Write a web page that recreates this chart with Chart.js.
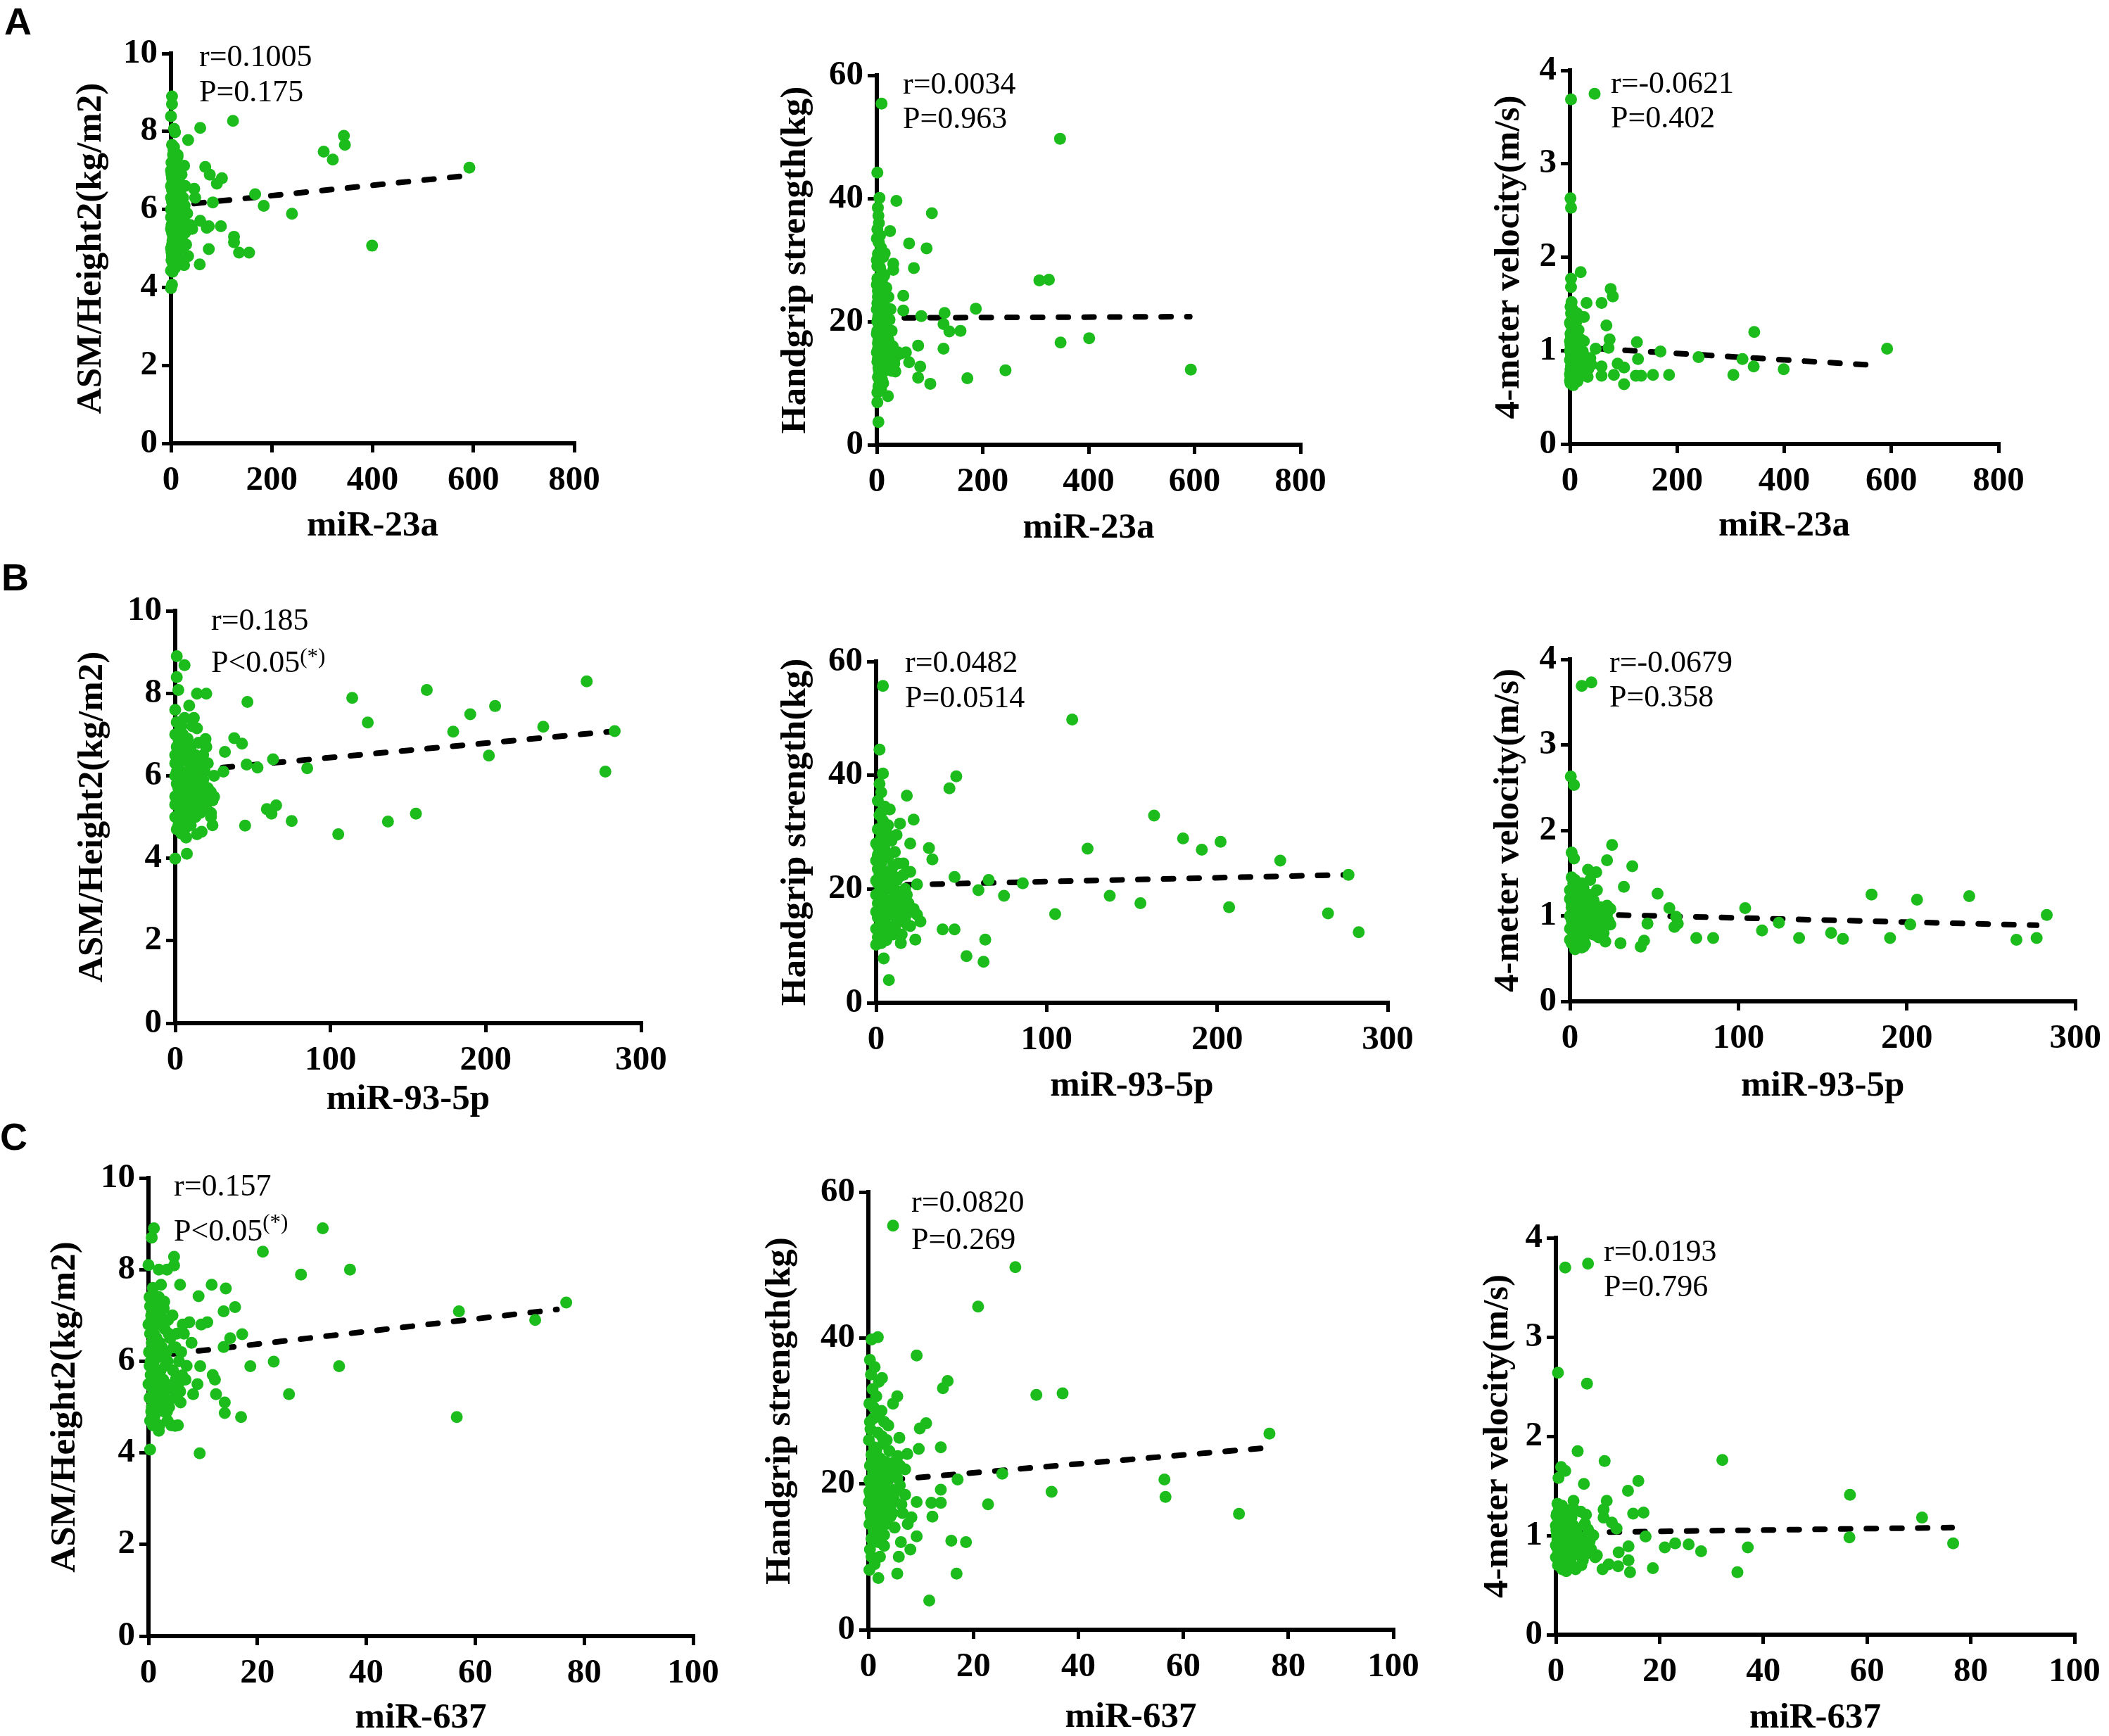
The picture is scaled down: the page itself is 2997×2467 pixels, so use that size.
<!DOCTYPE html>
<html lang="en">
<head>
<meta charset="UTF-8">
<title>miRNA correlations</title>
<script src="https://cdn.jsdelivr.net/npm/chart.js"></script>
<style>
    html, body {
        margin: 0;
        padding: 0;
        background: #fff;
        overflow: hidden;
    }
    #page {
        position: relative;
        width: 2997px;
        height: 2467px;
        background: #fff;
    }
    .box {
        position: absolute;
    }
    .letter {
        position: absolute;
        font-family: "Liberation Sans", Arial, sans-serif;
        font-weight: bold;
        font-size: 54px;
        line-height: 54px;
        color: #000;
    }
    .note {
        position: absolute;
        font-family: "Liberation Serif", "Times New Roman", serif;
        font-size: 44px;
        line-height: 44px;
        white-space: nowrap;
        color: #000;
    }
    .note span {
        font-size: 31px;
        position: relative;
    }
</style>
</head>
<body>
<div id="page"></div>

<script>
    // axis labels
    const xTitles = ["miR-23a", "miR-93-5p", "miR-637"];
    const yTitles = ["ASM/Height2(kg/m2)", "Handgrip strength(kg)", "4-meter velocity(m/s)"];
    const xMax = [800, 300, 100];
    const xStep = [200, 100, 20];
    const yMax = [10, 60, 4];
    const yStep = [2, 20, 1];
    const panelLetters = ["A", "B", "C"];

    // correlation notes (A1..C3)
    const rTexts = ["r=0.1005", "r=0.0034", "r=-0.0621",
                    "r=0.185", "r=0.0482", "r=-0.0679",
                    "r=0.157", "r=0.0820", "r=0.0193"];
    const pTexts = ["P=0.175", "P=0.963", "P=0.402",
                    "P<0.05", "P=0.0514", "P=0.358",
                    "P<0.05", "P=0.269", "P=0.796"];
    const pMarks = ["", "", "", "(*)", "", "", "(*)", "", ""];

    // points [x, y]
    const a1Points = [
        [592,7.07],[399,5.07],[343,7.89],[345,7.66],[303,7.48],[321,7.28],[240,5.89],[184,6.09],[167,6.39],[123,8.27],
        [155,4.89],[135,4.89],[125,5.30],[125,5.16],[99,5.57],[101,6.80],[91,6.66],[77,6.89],[68,7.09],[83,6.18],
        [75,5.57],[75,4.98],[58,8.09],[34,7.78],[57,4.59],[34,4.80],[26,4.57],[46,6.53],[48,6.30],[58,5.71],
        [71,5.53],[26,7.12],[13,7.35],[14,5.07],[2,8.90],[2,8.70],[0,8.39],[6,8.07],[8,7.98],[2,7.66],
        [5,7.52],[2,4.07],[0,3.98],[0,4.43],
        [1,7.2],[3,7.0],[5,6.9],[2,6.8],[8,6.7],[12,6.6],[4,6.5],[15,6.5],[6,6.4],[10,6.3],
        [2,6.2],[18,6.2],[7,6.1],[3,6.0],[12,6.0],[20,5.9],[1,5.8],[9,5.8],[25,5.7],[4,5.6],
        [14,5.6],[30,5.6],[6,5.5],[2,5.4],[18,5.4],[10,5.3],[3,5.2],[22,5.2],[7,5.1],[1,5.0],
        [15,5.0],[5,4.9],[2,4.8],[11,4.8],[1,4.7],[4,4.6],[8,4.5],[20,5.5],[35,5.5],[28,5.4],
        [16,6.8],[20,6.6],[9,7.1],[13,7.4],[24,6.3],[26,5.8],[0,6.6],[0,6.0],[0,5.5],[0,5.0],
        [0,7.0],[1,6.3],[3,6.7],[5,6.2],[6,5.8],[8,5.2],[11,5.6],[13,6.2],[16,5.9],[19,5.1],
        [23,6.0],[30,5.1],[38,5.6],[42,5.5],[17,4.7],[9,4.6],[4,7.4],[6,7.6],[10,7.0],[3,4.4],
        [12,6.9],[21,6.9],[14,7.1],[28,6.6],[32,5.9],
        [1,6.9],[2,6.5],[4,6.1],[5,5.7],[7,5.4],[3,5.8],[6,6.6],[9,6.0],[11,5.2],[8,6.9],
        [2,5.1],[4,5.3],[1,5.6],[5,6.3],[14,6.3],[17,5.7],[10,5.9],[7,6.5],[3,7.2],[12,5.0],
        [1,4.9],[6,4.8],[0,5.8],[0,6.3],[19,6.4],[22,5.8],[15,5.3],[24,5.0],[27,6.1],[9,5.5]
    ];
    const a2Points = [
        [9,55.4],[346,49.7],[1,44.2],[5,40.1],[37,39.6],[104,37.6],[25,34.7],[61,32.7],[94,31.9],[15,31.1],
        [31,29.4],[70,28.7],[307,26.7],[325,26.8],[50,24.2],[50,21.8],[187,22.1],[128,21.4],[84,20.9],[126,19.6],
        [137,18.4],[158,18.5],[347,16.6],[401,17.3],[78,16.1],[126,15.6],[61,13.4],[82,12.7],[243,12.1],[593,12.2],
        [171,10.8],[78,10.9],[101,9.9],[21,7.9],[3,3.7],[1,6.9],[35,11.9],[31,28.4],
        [2,38.5],[3,37.2],[4,36.0],[1,35.0],[6,34.0],[3,33.0],[8,32.0],[2,31.0],[12,30.5],[5,30.0],
        [1,29.0],[9,28.0],[14,27.5],[3,27.0],[7,26.0],[18,25.5],[2,25.0],[11,24.5],[5,24.0],[22,24.0],
        [1,23.0],[8,23.0],[15,22.5],[3,22.0],[26,22.0],[6,21.5],[12,21.0],[2,20.5],[20,20.5],[9,20.0],
        [4,19.5],[16,19.0],[1,18.5],[28,18.5],[7,18.0],[13,17.5],[3,17.0],[22,17.0],[10,16.5],[5,16.0],
        [30,16.0],[2,15.5],[18,15.5],[8,15.0],[40,15.0],[4,14.5],[25,14.5],[12,14.0],[1,13.5],[35,14.2],
        [6,13.0],[20,13.0],[3,12.5],[15,12.0],[9,11.5],[2,11.0],[28,12.0],[5,10.5],[12,10.0],[3,9.5],
        [8,9.0],[1,8.5],[45,14.8],[55,15.0],[17,21.8],[24,20.3],[0,22.0],[0,18.0],[0,15.0],[0,26.0],
        [0,30.0],[10,26.8],[6,28.8],[4,32.8],[14,18.0],[19,16.3],[33,13.2],
        [1,27.0],[2,24.0],[4,22.5],[6,19.5],[3,18.0],[5,16.5],[7,14.5],[2,14.0],[10,13.5],[4,12.0],
        [8,17.0],[11,19.5],[13,21.5],[6,23.5],[3,21.0],[1,20.0],[9,22.5],[14,15.0],[16,13.0],[2,16.5],
        [7,20.5],[5,25.5],[12,24.0],[20,18.2],[23,15.8],[10,10.5],[3,29.5],[0,33.5],[6,17.5],[18,20.8]
    ];
    const a3Points = [
        [2,3.69],[46,3.75],[1,2.63],[2,2.53],[20,1.84],[2,1.77],[2,1.68],[76,1.66],[80,1.58],[31,1.51],
        [59,1.51],[68,1.27],[26,1.36],[344,1.20],[125,1.09],[74,1.12],[72,1.03],[48,1.02],[169,0.99],[592,1.02],
        [240,0.93],[322,0.91],[127,0.91],[89,0.86],[101,0.82],[343,0.83],[399,0.80],[305,0.74],[185,0.74],[155,0.74],
        [133,0.73],[123,0.73],[82,0.74],[59,0.73],[59,0.83],[101,0.64],[33,0.72],
        [3,1.52],[1,1.47],[5,1.44],[2,1.40],[8,1.38],[4,1.34],[12,1.31],[1,1.28],[6,1.25],[16,1.22],
        [3,1.20],[9,1.17],[2,1.14],[20,1.12],[5,1.10],[11,1.08],[1,1.06],[7,1.04],[14,1.02],[3,1.00],
        [24,0.99],[9,0.97],[2,0.95],[17,0.94],[5,0.92],[12,0.91],[1,0.90],[28,0.89],[7,0.88],[3,0.86],
        [20,0.85],[10,0.84],[4,0.82],[15,0.81],[1,0.80],[34,0.80],[8,0.78],[22,0.77],[3,0.76],[12,0.75],
        [6,0.73],[18,0.72],[2,0.71],[9,0.70],[4,0.68],[14,0.67],[1,0.65],[6,0.63],[26,0.88],[38,0.92],
        [30,0.76],[0,1.10],[0,0.90],[0,0.75],[0,1.30],[10,1.24],[13,1.40],[26,1.10],[40,0.85],
        [1,1.18],[2,1.05],[4,0.98],[3,0.93],[6,0.88],[5,0.80],[8,0.92],[2,0.84],[10,1.00],[7,0.76],
        [1,0.72],[4,1.14],[6,1.02],[9,0.86],[13,0.95],[16,0.83],[11,0.72],[3,1.30],[5,1.25],[2,0.66],
        [8,1.10],[14,1.12],[18,0.98],[21,0.91],[0,0.68],[0,1.00],[4,0.74],[12,0.80],[7,1.18],[25,0.80]
    ];
    const b1Points = [
        [283,7.08],[277,6.10],[265,8.29],[237,7.19],[206,7.69],[202,6.49],[190,7.49],[179,7.07],[162,8.08],[155,5.08],
        [137,4.89],[124,7.29],[114,7.89],[105,4.58],[85,6.18],[75,4.90],[63,6.40],[65,5.28],[62,5.08],[59,5.19],
        [53,6.20],[46.5,7.79],[46,6.27],[45,4.79],[43,6.78],[38,6.91],[32,6.58],[31,6.10],[24,4.80],[23,5.00],
        [25,5.49],[20,7.99],[14,7.99],[7.5,4.11],[0,3.99],[1,8.90],[6,8.68],[1,8.39],[2,8.08],[0,7.60],
        [9,7.70],[12,7.40],[19.5,6.89],[20,6.70],[14,7.15],[17,4.64],[14,4.58],[7,4.50],
        [1,7.3],[3,7.1],[5,7.0],[2,6.9],[7,6.8],[10,6.7],[4,6.6],[13,6.5],[6,6.4],[9,6.3],
        [2,6.2],[16,6.2],[8,6.1],[3,6.0],[12,6.0],[18,5.9],[1,5.8],[10,5.8],[21,5.7],[4,5.6],
        [14,5.6],[23,5.6],[6,5.5],[2,5.4],[17,5.4],[9,5.3],[3,5.2],[20,5.3],[7,5.1],[1,5.0],
        [13,5.0],[5,4.9],[2,4.8],[10,4.8],[1,4.7],[4,4.6],[0,6.5],[0,6.0],[0,5.5],[0,5.0],
        [0,7.0],[15,6.8],[11,7.2],[18,6.5],[22,5.5],[24,5.4],[6,7.4],[8,5.7],[12,5.4],[16,5.1],
        [19,6.1],[3,6.4],[5,5.9],[7,5.2],[9,6.6],[25,6.0],
        [1,6.7],[2,6.3],[3,5.9],[4,5.5],[5,5.1],[6,6.0],[7,6.6],[8,5.4],[9,5.0],[10,6.2],
        [11,5.9],[12,6.4],[13,5.7],[2,5.7],[3,6.8],[4,7.2],[5,5.3],[6,4.7],[8,6.9],[10,5.5],
        [1,6.1],[0,5.3],[0,6.3],[15,5.7],[16,6.4],[14,5.2],[17,5.9],[19,5.6],[21,6.3],[23,5.1]
    ];
    const b2Points = [
        [4,55.7],[115,49.8],[2,44.5],[4,40.3],[47,39.8],[43,37.7],[18,36.4],[163,32.9],[22,32.2],[180,28.9],
        [20,28.0],[202,28.3],[124,27.1],[191,26.9],[31,27.2],[33,25.2],[237,25.0],[277,22.5],[46,22.1],[66,21.6],
        [86,21.0],[24,20.8],[60,19.8],[75,18.8],[137,18.8],[155,17.5],[207,16.8],[105,15.6],[265,15.7],[39,12.9],
        [46,12.9],[283,12.4],[64,11.1],[53,8.2],[63,7.2],[7.5,4.0],[0,10.2],[4.5,7.8],[14.5,10.5],[23,11.1],
        [26,14.3],
        [2,38.5],[3,37.0],[1,35.5],[5,34.5],[8,34.0],[2,33.0],[4,32.0],[14,31.5],[1,30.5],[6,30.0],
        [12,29.5],[3,29.0],[9,28.5],[2,27.5],[5,27.0],[1,26.0],[7,25.5],[16,24.5],[3,24.5],[10,24.0],
        [1,23.5],[5,23.0],[20,23.0],[2,22.5],[8,22.0],[13,22.0],[4,21.5],[1,21.0],[10,20.5],[6,20.0],
        [17,20.0],[2,19.5],[12,19.0],[4,18.5],[8,18.0],[1,17.5],[19,17.5],[6,17.0],[14,16.5],[3,16.0],
        [22,16.5],[9,15.5],[1,15.0],[17,15.0],[5,14.5],[12,14.0],[2,13.5],[20,13.5],[8,13.0],[4,12.5],
        [15,12.0],[1,11.5],[10,12.0],[6,11.0],[3,10.5],[18,13.8],[0,25.0],[0,19.0],[0,16.0],[0,13.0],
        [11,26.5],[7,31.2],[15,18.2],[24,15.5],[16,22.5],
        [1,27.5],[2,25.0],[3,21.0],[4,19.5],[5,17.5],[6,15.5],[7,13.5],[2,16.0],[3,14.0],[8,20.0],
        [9,23.0],[10,18.0],[11,16.0],[12,21.5],[13,24.5],[5,28.0],[4,30.0],[6,25.5],[1,19.0],[2,12.0],
        [7,21.5],[14,19.5],[15,14.5],[18,19.0],[20,16.0],[3,33.5],[0,21.5],[0,28.0],[9,17.2],[11,13.0]
    ];
    const b3Points = [
        [7,3.69],[12.7,3.73],[0.5,2.63],[2.4,2.53],[25,1.83],[1,1.74],[2.4,1.67],[22,1.65],[37,1.58],[15.6,1.51],
        [10.7,1.54],[32,1.34],[52,1.26],[179,1.25],[237,1.23],[206,1.19],[104,1.09],[59,1.09],[283,1.01],[63,0.99],
        [64,0.91],[46,0.91],[62,0.87],[124,0.92],[202,0.90],[114,0.83],[155,0.80],[75,0.74],[85,0.74],[136,0.74],
        [162,0.73],[190,0.74],[265,0.72],[277,0.74],[21,0.70],[30,0.68],[44,0.71],[42,0.64],[22,1.12],
        [1,1.45],[3,1.42],[2,1.38],[5,1.35],[8,1.33],[1,1.30],[4,1.27],[11,1.25],[2,1.22],[6,1.20],
        [14,1.18],[3,1.15],[9,1.13],[1,1.10],[18,1.10],[5,1.07],[12,1.05],[2,1.03],[7,1.01],[20,1.02],
        [3,0.99],[10,0.97],[1,0.95],[15,0.95],[5,0.93],[23,0.94],[2,0.91],[8,0.90],[12,0.88],[4,0.86],
        [18,0.86],[1,0.84],[6,0.82],[10,0.80],[3,0.78],[14,0.78],[2,0.75],[8,0.73],[5,0.71],[1,0.68],
        [4,0.65],[7,0.63],[3,0.61],[0,1.20],[0,1.00],[0,0.85],[16,1.30],[12,1.42],[20,0.80],[24,0.90],
        [9,0.67],
        [1,1.15],[2,1.08],[3,1.02],[4,0.96],[5,0.88],[6,1.12],[7,0.95],[8,1.05],[9,0.85],[10,1.18],
        [11,0.92],[2,0.80],[3,0.72],[4,1.24],[6,0.76],[12,0.98],[14,0.88],[16,1.05],[1,0.88],[0,0.72],
        [0,1.30],[5,1.28],[7,1.38],[13,1.15],[19,0.97],[22,1.02],[8,0.64],[17,0.75],[21,0.88],[24,1.08]
    ];
    const c1Points = [
        [76.7,7.28],[71,6.90],[57,7.09],[56.6,4.78],[37,8.00],[35,5.89],[32,8.90],[28,7.89],[25.8,5.28],[23,5.99],
        [21,8.39],[18.7,5.89],[17.2,6.59],[17,4.78],[15.9,7.18],[15,6.50],[14.2,7.59],[13.8,7.09],[13.8,6.31],[14,5.10],
        [14,4.87],[12.4,5.28],[12.2,5.60],[11.8,5.70],[11.6,7.67],[10.8,6.85],[9.7,6.80],[9.5,5.89],[9.2,7.42],[9,5.50],
        [9.4,3.99],[7.5,6.85],[7.9,6.40],[8.2,5.28],[5.8,7.67],[4.7,8.28],[4.7,8.09],[3.4,8.00],[1.9,8.00],[2.3,7.67],
        [1,8.90],[0.6,8.70],[0,8.10],[0.3,4.07],[4.9,4.59],[1.9,4.48],[5.8,5.34],[6.2,5.69],[2.8,7.16],
        [0.2,7.4],[1.2,7.2],[0.5,7.0],[2.0,6.9],[0.8,6.8],[3.0,6.7],[0.3,6.6],[1.5,6.5],[4.0,6.5],[0.6,6.4],
        [2.5,6.3],[5.0,6.3],[0.1,6.2],[1.8,6.1],[3.5,6.0],[0.9,5.9],[2.2,5.8],[4.5,5.8],[0.4,5.7],[1.4,5.6],
        [3.2,5.5],[0.7,5.4],[2.6,5.3],[5.5,5.5],[0.2,5.2],[1.7,5.1],[3.8,5.0],[0.5,4.9],[2.9,4.9],[1.1,4.8],
        [0.3,4.7],[2.0,4.6],[4.2,4.6],[1.0,6.0],[0.0,5.5],[0.0,6.8],[3.6,6.9],[5.2,6.6],[6.0,6.2],[4.8,5.2],
        [2.4,7.1],[1.6,5.4],[3.1,5.9],[0.8,7.6],[3.4,4.9],[5.4,4.6],[6.5,6.6],[7.0,5.9],[6.8,5.6],
        [0.4,6.0],[1.0,6.6],[1.3,5.3],[2.1,6.4],[2.7,5.6],[0.6,5.0],[1.9,7.4],[3.3,6.2],[4.1,5.4],[0.9,6.2],
        [2.4,5.0],[3.7,6.6],[1.5,4.9],[0.2,5.9],[4.4,7.0],[5.6,6.0],[2.9,7.3],[1.1,5.5],[3.0,5.2],[0.5,6.9],
        [5.0,5.6],[6.3,6.8],[4.6,6.3],[1.7,6.8],[2.2,6.1],[0.8,4.6],[3.5,4.7],[5.9,5.1],[0.3,7.2],[1.4,7.0]
    ];
    const c2Points = [
        [4.7,55.4],[28,49.7],[20.9,44.3],[1.8,40.1],[0.6,39.8],[9.2,37.6],[15.1,34.1],[14.2,33.1],[32,32.2],[37,32.4],
        [76.4,26.9],[5.5,32.0],[4.7,31.0],[2.6,34.5],[11,28.3],[9.8,27.6],[3.8,28.0],[5.9,26.3],[9.6,24.8],[13.8,25.0],
        [7.4,24.1],[25.5,21.4],[17,20.6],[56.4,20.6],[56.6,18.2],[34.9,18.9],[13.8,19.2],[13.8,17.4],[22.8,17.2],[70.6,15.9],
        [12,17.4],[9.2,17.5],[12.2,15.5],[8.2,15.4],[9.2,12.8],[15.8,12.2],[18.6,12.0],[8,11.0],[5.8,10.0],[5.5,7.7],
        [16.8,7.7],[1.9,7.1],[0.2,8.2],[11.6,4.0],[6.2,12.0],
        [0.3,37.0],[1.2,36.0],[0.5,35.0],[2.0,34.0],[0.8,33.0],[1.5,32.0],[0.2,31.0],[2.5,30.0],[1.0,29.0],[3.0,28.5],
        [0.4,27.5],[1.8,27.0],[0.1,26.0],[2.8,25.5],[1.1,25.0],[4.0,24.5],[0.6,24.0],[2.2,23.5],[5.0,23.0],[0.3,22.5],
        [1.5,22.0],[3.5,22.0],[6.0,22.5],[0.9,21.5],[2.6,21.0],[4.5,21.0],[0.2,20.5],[1.7,20.0],[3.2,20.0],[0.7,19.5],
        [2.3,19.0],[5.2,19.0],[0.4,18.5],[1.4,18.0],[3.8,18.0],[0.1,17.5],[2.0,17.0],[4.2,17.0],[0.8,16.5],[2.9,16.0],
        [6.5,16.0],[0.5,15.5],[1.6,15.0],[3.6,15.0],[0.2,14.5],[2.4,14.0],[5.0,14.0],[1.0,13.5],[3.0,13.0],[0.6,12.5],
        [1.9,12.0],[0.3,11.0],[2.2,10.0],[1.2,9.0],[7.0,22.0],[6.0,19.8],[4.6,16.0],[7.5,14.5],[3.0,11.5],[1.0,30.5],
        [5.6,23.8],[7.0,18.5],[3.5,26.0],
        [0.5,20.0],[1.0,18.5],[1.3,21.5],[2.0,22.0],[0.4,16.0],[1.7,14.8],[2.5,18.5],[3.1,17.0],[0.7,23.0],[1.5,24.5],
        [2.8,20.5],[3.9,19.5],[4.5,22.0],[0.2,19.0],[1.2,16.8],[2.0,13.2],[3.4,14.5],[0.9,12.0],[4.8,18.0],[5.5,20.8],
        [0.3,28.5],[1.8,29.5],[2.6,26.5],[6.3,17.2],[0.6,10.0],[3.3,23.0],[4.2,15.5],[1.1,21.0],[2.3,16.2],[5.2,21.6]
    ];
    const c3Points = [
        [1.8,3.70],[6.2,3.74],[0.4,2.64],[6,2.53],[4.2,1.85],[9.4,1.75],[32.1,1.76],[1,1.69],[1.8,1.65],[0.5,1.58],
        [15.9,1.55],[5.4,1.52],[13.9,1.45],[56.7,1.41],[9.8,1.35],[3.4,1.35],[9.2,1.26],[14.9,1.22],[16.9,1.23],[70.6,1.18],
        [5.8,1.21],[9.2,1.18],[10.8,1.13],[11.7,1.07],[17.3,0.99],[56.6,0.98],[76.6,0.92],[23,0.92],[25.6,0.91],[21,0.88],
        [37,0.88],[28,0.84],[14,0.89],[12.1,0.83],[14,0.75],[10.2,0.71],[12,0.69],[9,0.66],[18.7,0.67],[14.3,0.63],
        [35,0.63],[7.9,0.80],
        [0.3,1.32],[1.2,1.30],[0.6,1.27],[2.0,1.25],[0.2,1.22],[1.5,1.20],[3.0,1.18],[0.8,1.15],[2.4,1.13],[0.4,1.10],
        [1.8,1.08],[4.0,1.07],[0.1,1.05],[1.1,1.03],[3.2,1.02],[0.7,1.00],[2.2,0.98],[5.0,0.98],[0.3,0.96],[1.6,0.94],
        [3.6,0.93],[0.9,0.91],[2.7,0.90],[0.2,0.88],[1.3,0.86],[4.4,0.86],[0.5,0.84],[2.0,0.82],[6.0,0.82],[1.0,0.80],
        [3.0,0.78],[0.4,0.76],[1.8,0.74],[5.2,0.75],[0.8,0.72],[2.6,0.70],[1.4,0.68],[3.8,0.66],[2.0,0.64],[6.5,0.94],
        [7.2,1.00],[5.6,1.12],[4.8,1.24],[3.3,1.28],[7.6,0.78],[0,1.10],[0,0.90],[0,0.78],
        [0.2,1.00],[0.6,0.92],[1.0,0.96],[1.4,1.02],[1.8,0.88],[2.2,1.06],[0.5,1.16],[1.0,0.84],[2.6,0.96],[3.0,0.86],
        [0.3,0.80],[1.5,0.78],[2.4,0.76],[3.5,1.00],[4.2,0.94],[0.8,1.26],[1.9,1.18],[2.8,1.04],[3.9,0.82],[4.6,0.80],
        [5.4,0.90],[0.4,0.70],[1.2,0.66],[2.9,0.72],[6.2,1.06],[0.1,1.20],[1.7,1.12],[3.4,1.10],[4.9,0.70],[6.8,0.86]
    ];
    const allPoints = [a1Points, a2Points, a3Points, b1Points, b2Points, b3Points, c1Points, c2Points, c3Points];

    // dashed fit lines, end points
    const fitLines = [
        [[46,6.15],[575,6.85]], [[52,20.6],[591,20.8]], [[55,1.02],[577,0.84]],
        [[14,6.14],[280,7.07]], [[18,20.75],[277,22.5]], [[29,1.01],[277,0.89]],
        [[4.5,6.16],[75,7.13]], [[4.6,20.57],[75.3,24.9]], [[5.4,1.03],[76.4,1.08]]
    ];

    // page layout in px:
    // plot left, top, right, bottom, y-title centre x, x-title centre y, note left, note baselines, sup raise
    const layout = [
        [243, 76, 816, 630, 130, 747, 283, 95, 145, 0],
        [1246, 107, 1848, 632, 1131, 750, 1283, 134, 183, 0],
        [2231, 100, 2840, 631, 2145, 747, 2289, 133, 182, 0],
        [249, 868, 911, 1454, 132, 1562, 300, 896, 956, 12],
        [1245, 940, 1972, 1425, 1131, 1543, 1286, 956, 1006, 0],
        [2231, 937, 2955, 1423, 2144, 1543, 2287, 956, 1005, 0],
        [211, 1674, 985, 2325, 93, 2441, 247, 1700, 1764, 16],
        [1234, 1694, 1980, 2316, 1109, 2440, 1295, 1723, 1776, 0],
        [2211, 1759, 2948, 2323, 2129, 2441, 2279, 1793, 1843, 0]
    ];
    const letterPos = [[6, 49], [2, 839], [0, 1634]];

    const green = "#1cbc1c";
    const serif = "'Liberation Serif', 'Times New Roman', serif";
    const page = document.getElementById("page");

    function addNote(text, mark, left, baseline, raise) {
        const d = document.createElement("div");
        d.className = "note";
        d.style.left = left + "px";
        d.style.top = (baseline - 0.8375 * 44) + "px";
        d.textContent = text;
        if (mark) {
            const s = document.createElement("span");
            s.textContent = mark;
            s.style.top = (-raise) + "px";
            d.appendChild(s);
        }
        page.appendChild(d);
    }

    function makePanel(i) {
        const row = Math.floor(i / 3);
        const col = i % 3;
        const [L, T, R, B, yTitleX, xTitleY, noteL, base1, base2, raise] = layout[i];
        const boxL = yTitleX - 31;
        const boxT = T - 45;
        const boxR = Math.min(R + 60, 2997);
        const boxB = xTitleY + 31;

        const box = document.createElement("div");
        box.className = "box";
        box.style.left = boxL + "px";
        box.style.top = boxT + "px";
        box.style.width = (boxR - boxL) + "px";
        box.style.height = (boxB - boxT) + "px";
        const canvas = document.createElement("canvas");
        canvas.width = boxR - boxL;
        canvas.height = boxB - boxT;
        box.appendChild(canvas);
        page.appendChild(box);

        const tickFont = { family: serif, size: 49, weight: "bold" };
        const titleFont = { family: serif, size: 51, weight: "bold" };

        new Chart(canvas, {
            type: "scatter",
            data: {
                datasets: [
                    {
                        data: allPoints[i].map(p => ({ x: p[0], y: p[1] })),
                        pointRadius: 8.5,
                        pointBackgroundColor: green,
                        pointBorderWidth: 0,
                        clip: false
                    },
                    {
                        data: fitLines[i].map(p => ({ x: p[0], y: p[1] })),
                        showLine: true,
                        borderColor: "#000",
                        borderWidth: 8,
                        borderDash: [14, 22.5],
                        borderCapStyle: "round",
                        pointRadius: 0,
                        fill: false,
                        clip: false
                    }
                ]
            },
            options: {
                responsive: false,
                devicePixelRatio: 1,
                animation: false,
                events: [],
                layout: { padding: { top: T - boxT, right: boxR - R, left: 0, bottom: 0 } },
                plugins: { legend: { display: false }, tooltip: { enabled: false } },
                scales: {
                    x: {
                        type: "linear",
                        min: 0,
                        max: xMax[row],
                        ticks: { stepSize: xStep[row], color: "#000", font: tickFont, padding: 11, maxRotation: 0, autoSkip: false },
                        grid: { drawOnChartArea: false, drawTicks: true, tickLength: 13, color: "#000", lineWidth: 5 },
                        border: { display: true, color: "#000", width: 6 },
                        title: { display: true, text: xTitles[row], color: "#000", font: titleFont, padding: 0 },
                        afterFit: s => { s.height = boxB - B; }
                    },
                    y: {
                        type: "linear",
                        min: 0,
                        max: yMax[col],
                        ticks: { stepSize: yStep[col], color: "#000", font: tickFont, padding: 6, autoSkip: false },
                        grid: { drawOnChartArea: false, drawTicks: true, tickLength: 13, color: "#000", lineWidth: 5 },
                        border: { display: true, color: "#000", width: 6 },
                        title: { display: true, text: yTitles[col], color: "#000", font: titleFont, padding: 0 },
                        afterFit: s => { s.width = L - boxL; }
                    }
                }
            }
        });

        addNote(rTexts[i], "", noteL, base1, 0);
        addNote(pTexts[i], pMarks[i], noteL, base2, raise);
    }

    for (let i = 0; i < 9; i++) {
        makePanel(i);
    }

    // panel letters
    panelLetters.forEach((t, k) => {
        const d = document.createElement("div");
        d.className = "letter";
        d.style.left = letterPos[k][0] + "px";
        d.style.top = (letterPos[k][1] - 0.8465 * 54) + "px";
        d.textContent = t;
        page.appendChild(d);
    });
</script>
</body>
</html>
